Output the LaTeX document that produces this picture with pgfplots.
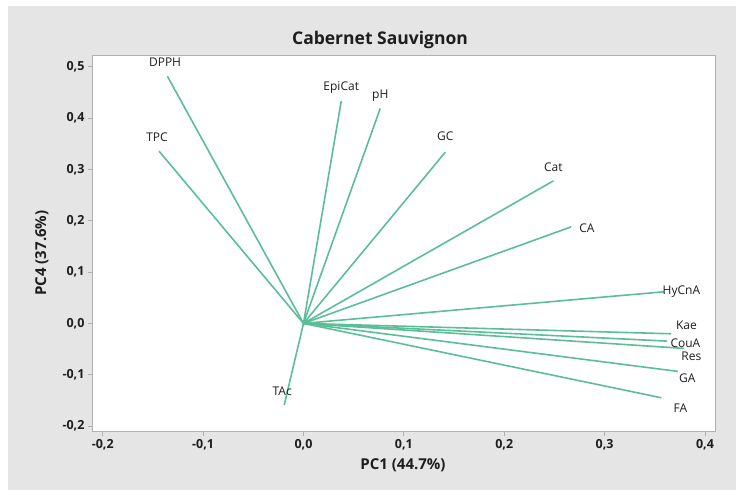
\documentclass[border=0pt]{standalone}
\usepackage{pgfplots}
\pgfplotsset{compat=1.18}
\usepackage{fontspec}
\setmainfont{Open Sans}
\definecolor{bgray}{RGB}{229,229,229}
\definecolor{lgreen}{RGB}{92,190,152}
\definecolor{fgray}{RGB}{176,176,176}
\definecolor{tcol}{RGB}{30,30,30}
\tikzset{vec/.style={lgreen, solid, line width=1.6pt, mark=none}}
\begin{document}
\begin{tikzpicture}[x=1pt,y=1pt]
\path[fill=white] (0,0) rectangle (736,490);
\fill[bgray] (8,0) rectangle (736,484);
\node[font=\bfseries\fontsize{17.5}{18}\selectfont, text=tcol] at (380,450) {Cabernet Sauvignon};
\node[font=\bfseries\fontsize{15}{16}\selectfont, text=tcol] at (403,25) {PC1 (44.7\%)};
\node[font=\bfseries\fontsize{15}{16}\selectfont, text=tcol, rotate=90] at (42,237) {PC4 (37.6\%)};
\begin{axis}[
  at={(92pt,58.3pt)}, anchor=south west,
  width=623pt, height=375.7pt, scale only axis,
  xmin=-0.2107, xmax=0.41, ymin=-0.211, ymax=0.521,
  axis background/.style={fill=white},
  axis line style={fgray, line width=1pt},
  xtick={-0.2,-0.1,0,0.1,0.2,0.3,0.4},
  xticklabels={{-0,2},{-0,1},{0,0},{0,1},{0,2},{0,3},{0,4}},
  ytick={-0.2,-0.1,0,0.1,0.2,0.3,0.4,0.5},
  yticklabels={{-0,2},{-0,1},{0,0},{0,1},{0,2},{0,3},{0,4},{0,5}},
  xtick pos=lower, ytick pos=left,
  tick align=outside, major tick length=4pt,
  tick style={fgray, line width=0.8pt},
  ticklabel style={font=\bfseries\fontsize{12.5}{13}\selectfont, text=tcol},
  clip=false,
]
\addplot[vec] coordinates {(0,0) (-0.1356,0.4816)};
\addplot[vec] coordinates {(0,0) (-0.1439,0.3356)};
\addplot[vec] coordinates {(0,0) (0.0376,0.4330)};
\addplot[vec] coordinates {(0,0) (0.0765,0.4190)};
\addplot[vec] coordinates {(0,0) (0.1413,0.3336)};
\addplot[vec] coordinates {(0,0) (0.2490,0.2777)};
\addplot[vec] coordinates {(0,0) (0.2666,0.1880)};
\addplot[vec] coordinates {(0,0) (0.3590,0.0616)};
\addplot[vec] coordinates {(0,0) (0.3663,-0.0202)};
\addplot[vec] coordinates {(0,0) (0.3623,-0.0345)};
\addplot[vec] coordinates {(0,0) (0.3789,-0.0487)};
\addplot[vec] coordinates {(0,0) (0.3729,-0.0935)};
\addplot[vec] coordinates {(0,0) (0.3566,-0.1449)};
\addplot[vec] coordinates {(0,0) (-0.0192,-0.1590)};
\begin{scope}[every node/.style={font=\fontsize{12}{12}\selectfont, text=tcol}]
\node at (axis cs:-0.1379,0.5089) {DPPH};
\node at (axis cs:-0.1459,0.3628) {TPC};
\node at (axis cs:0.0376,0.4601) {EpiCat};
\node at (axis cs:0.0765,0.4445) {pH};
\node at (axis cs:0.1413,0.3647) {GC};
\node at (axis cs:0.2489,0.3043) {Cat};
\node at (axis cs:0.2823,0.1856) {CA};
\node at (axis cs:0.3765,0.0610) {HyCnA};
\node at (axis cs:0.3815,-0.0033) {Kae};
\node at (axis cs:0.3805,-0.0384) {CouA};
\node at (axis cs:0.3865,-0.0637) {Res};
\node at (axis cs:0.3825,-0.1065) {GA};
\node at (axis cs:0.3755,-0.1650) {FA};
\node at (axis cs:-0.0212,-0.1318) {TAc};
\end{scope}
\end{axis}
\end{tikzpicture}
\end{document}
